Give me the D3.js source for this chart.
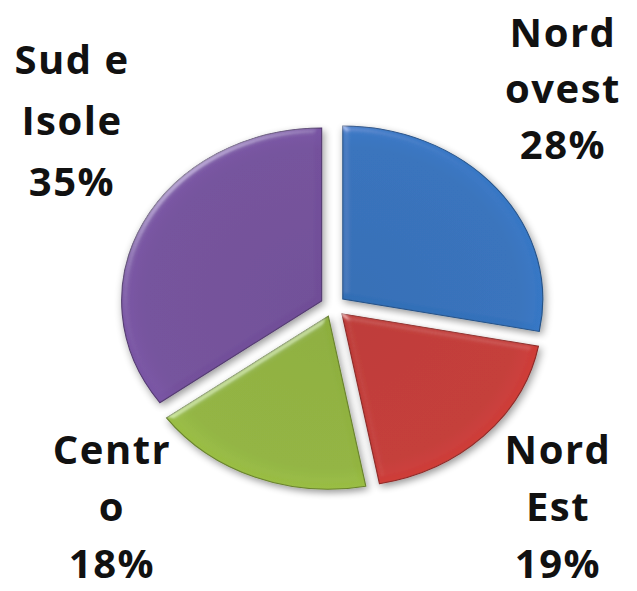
<!DOCTYPE html>
<html>
<head>
<meta charset="utf-8">
<script src="https://cdn.jsdelivr.net/npm/d3@7"></script>
<style>
  html, body { margin: 0; padding: 0; background: #fff; }
  svg { display: block; }
  .lbl { font-family: "Open Sans", "DejaVu Sans", sans-serif; font-weight: 700; fill: #111; }
</style>
</head>
<body>
<div id="chart"></div>
<script>
// regions and their shares (clockwise from 12 o'clock)
const regions = ['Nord ovest', 'Nord Est', 'Centro', 'Sud e Isole'];
const shares = [28, 19, 18, 35];
const labelLines = [['Nord', 'ovest', '28%'], ['Nord', 'Est', '19%'], ['Centr', 'o', '18%'], ['Sud e', 'Isole', '35%']];
const colors = ['#3472bc', '#c43a36', '#92b440', '#74519c'];

const width = 637, height = 591;
const cx = 333, cy = 306;
const ry = 173, rx = 200;     // the pie is drawn squashed into an ellipse
const explode = 11;

// where each label block sits (centre x, first baseline, line step)
const labelPos = [
  { x: 563, y: 47, step: 56 },
  { x: 558, y: 464, step: 57 },
  { x: 112, y: 464, step: 57 },
  { x: 72, y: 74, step: 61 }
];

const svg = d3.select('#chart').append('svg')
  .attr('width', width)
  .attr('height', height);

const defs = svg.append('defs');

colors.forEach((c, i) => {
  const grad = defs.append('radialGradient')
    .attr('id', 'grad' + i)
    .attr('gradientUnits', 'userSpaceOnUse')
    .attr('cx', 0).attr('cy', 0).attr('r', ry);
  grad.append('stop').attr('offset', '0%').attr('stop-color', d3.color(c).darker(0.1));
  grad.append('stop').attr('offset', '88%').attr('stop-color', c);
  grad.append('stop').attr('offset', '100%').attr('stop-color', d3.color(c).brighter(0.15));
});

// bevel look
const bevel = defs.append('filter').attr('id', 'bevel')
  .attr('x', '-20%').attr('y', '-20%').attr('width', '140%').attr('height', '140%');
bevel.append('feGaussianBlur').attr('in', 'SourceAlpha').attr('stdDeviation', 3).attr('result', 'blur');
const spec = bevel.append('feSpecularLighting')
  .attr('in', 'blur').attr('surfaceScale', 3).attr('specularConstant', 0.6)
  .attr('specularExponent', 25).attr('lighting-color', '#ffffff').attr('result', 'spec');
spec.append('feDistantLight').attr('azimuth', 235).attr('elevation', 30);
bevel.append('feComposite').attr('in', 'spec').attr('in2', 'SourceAlpha').attr('operator', 'in').attr('result', 'specIn');
bevel.append('feComposite').attr('in', 'SourceGraphic').attr('in2', 'specIn')
  .attr('operator', 'arithmetic').attr('k1', 0).attr('k2', 1).attr('k3', 0.45).attr('k4', 0).attr('result', 'lit');
bevel.append('feGaussianBlur').attr('in', 'SourceAlpha').attr('stdDeviation', 3.5).attr('result', 'sh');
bevel.append('feOffset').attr('in', 'sh').attr('dx', 2).attr('dy', 3).attr('result', 'sho');
bevel.append('feComponentTransfer').attr('in', 'sho').attr('result', 'shf')
  .append('feFuncA').attr('type', 'linear').attr('slope', 0.4);
const merge = bevel.append('feMerge');
merge.append('feMergeNode').attr('in', 'shf');
merge.append('feMergeNode').attr('in', 'lit');

const pie = d3.pie().sort(null).value(d => d);
const arcs = pie(shares);
const arc = d3.arc().innerRadius(0).outerRadius(ry);

const g = svg.append('g')
  .attr('transform', `translate(${cx},${cy}) scale(${rx / ry},1)`);

g.selectAll('path.slice')
  .data(arcs)
  .enter()
  .append('path')
  .attr('class', 'slice')
  .attr('d', arc)
  .attr('transform', d => {
    const a = (d.startAngle + d.endAngle) / 2;
    return `translate(${Math.sin(a) * explode},${-Math.cos(a) * explode})`;
  })
  .attr('fill', (d, i) => `url(#grad${i})`)
  .attr('stroke', (d, i) => d3.color(colors[i]).darker(0.9))
  .attr('stroke-width', 1)
  .attr('filter', 'url(#bevel)');

// labels
labelLines.forEach((lines, i) => {
  const p = labelPos[i];
  const t = svg.append('text')
    .attr('class', 'lbl')
    .attr('text-anchor', 'middle')
    .attr('font-size', 40)
    .attr('letter-spacing', 1.5);
  lines.forEach((ln, j) => {
    t.append('tspan')
      .attr('x', p.x)
      .attr('y', p.y + j * p.step)
      .text(ln);
  });
});
</script>
</body>
</html>
